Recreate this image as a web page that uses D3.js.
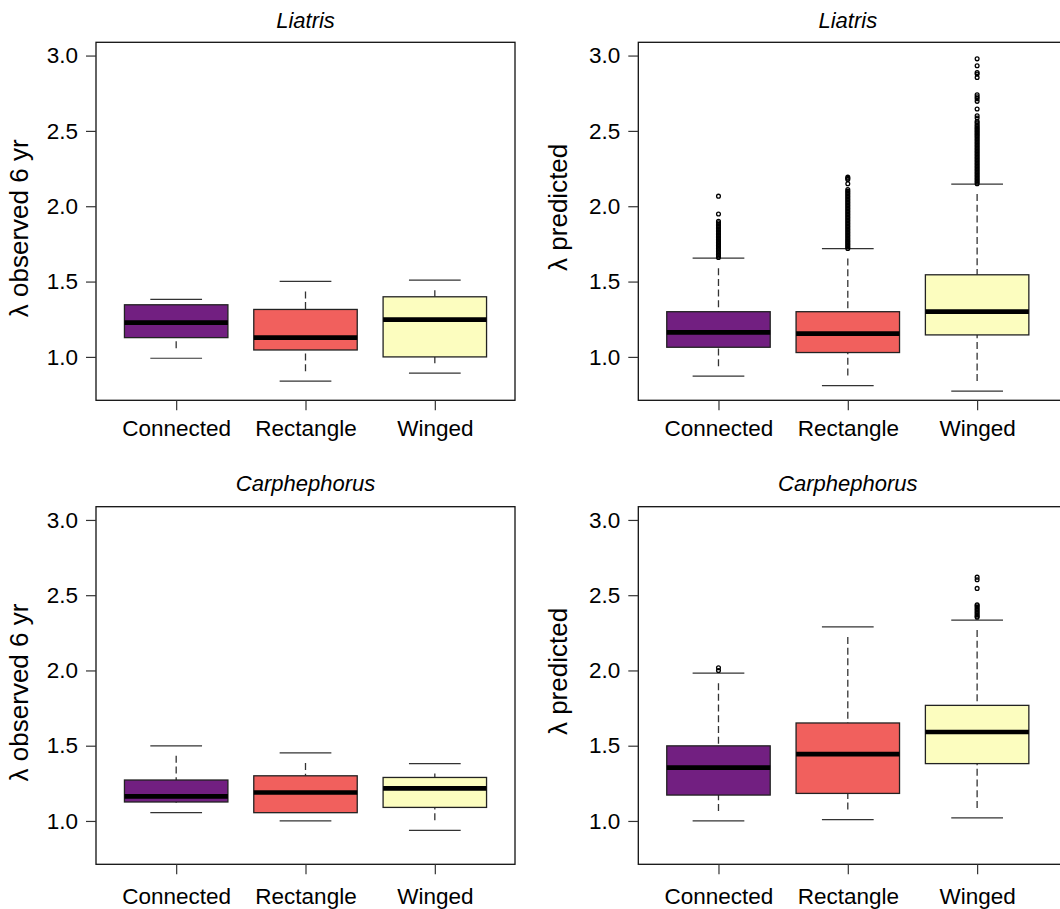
<!DOCTYPE html>
<html>
<head>
<meta charset="utf-8">
<script src="https://cdn.jsdelivr.net/npm/d3@7/dist/d3.min.js"></script>
<style>
  html, body { margin: 0; padding: 0; background: #fff; }
  svg { display: block; }
  text { font-family: "Liberation Sans", Arial, Helvetica, sans-serif; fill: #000; }
</style>
</head>
<body>
<svg id="chart" width="1060" height="909"></svg>
<script>
// ---------------- data ----------------
const categories = ["Connected", "Rectangle", "Winged"];
const boxColors = ["#721F81", "#F1605D", "#FCFDBF"];
const yTicks = [1.0, 1.5, 2.0, 2.5, 3.0];
const panelTitles = ["Liatris", "Liatris", "Carphephorus", "Carphephorus"];
const panelYLabels = ["λ observed 6 yr", "λ predicted", "λ observed 6 yr", "λ predicted"];

// [lower whisker, Q1, median, Q3, upper whisker] per category
const liatrisObserved = [
  [0.991, 1.128, 1.227, 1.346, 1.382],
  [0.839, 1.046, 1.128, 1.315, 1.501],
  [0.892, 1.000, 1.247, 1.399, 1.509]
];
const liatrisPredicted = [
  [0.872, 1.064, 1.163, 1.300, 1.655],
  [0.810, 1.029, 1.154, 1.300, 1.719],
  [0.773, 1.146, 1.300, 1.545, 2.147]
];
const carphObserved = [
  [1.055, 1.126, 1.163, 1.272, 1.499],
  [1.000, 1.055, 1.189, 1.300, 1.452],
  [0.938, 1.090, 1.216, 1.289, 1.381]
];
const carphPredicted = [
  [1.000, 1.172, 1.355, 1.499, 1.982],
  [1.009, 1.183, 1.444, 1.651, 2.289],
  [1.020, 1.381, 1.591, 1.768, 2.335]
];

// outliers
const liatrisPredConnectedOut = [1.66, 1.67, 1.68, 1.69, 1.70, 1.71, 1.72, 1.73, 1.74, 1.75,
  1.76, 1.77, 1.78, 1.79, 1.80, 1.81, 1.82, 1.83, 1.84, 1.85, 1.86, 1.87, 1.88, 1.89, 1.90,
  1.948, 2.067];
const liatrisPredRectangleOut = [1.72, 1.73, 1.74, 1.75, 1.76, 1.77, 1.78, 1.79, 1.80, 1.81,
  1.82, 1.83, 1.84, 1.85, 1.86, 1.87, 1.88, 1.89, 1.90, 1.91, 1.92, 1.93, 1.94, 1.95, 1.96,
  1.97, 1.98, 1.99, 2.00, 2.01, 2.02, 2.03, 2.04, 2.05, 2.06, 2.07, 2.08, 2.09, 2.10,
  2.111, 2.149, 2.178, 2.186, 2.193];
const liatrisPredWingedOut = [2.15, 2.16, 2.17, 2.18, 2.19, 2.20, 2.21, 2.22, 2.23, 2.24,
  2.25, 2.26, 2.27, 2.28, 2.29, 2.30, 2.31, 2.32, 2.33, 2.34, 2.35, 2.36, 2.37, 2.38, 2.39,
  2.40, 2.41, 2.42, 2.43, 2.44, 2.45, 2.46, 2.47, 2.48, 2.49, 2.50, 2.51, 2.52, 2.53, 2.54,
  2.553, 2.563, 2.586, 2.601, 2.645, 2.696, 2.714, 2.727, 2.740, 2.854, 2.877, 2.888, 2.932, 2.978];
const carphPredConnectedOut = [2.000, 2.018];
const carphPredRectangleOut = [];
const carphPredWingedOut = [2.353, 2.36, 2.37, 2.38, 2.39, 2.40, 2.41, 2.42, 2.43, 2.437,
  2.545, 2.603, 2.620];

const panelStats = [liatrisObserved, liatrisPredicted, carphObserved, carphPredicted];
const panelOutliers = [
  [[], [], []],
  [liatrisPredConnectedOut, liatrisPredRectangleOut, liatrisPredWingedOut],
  [[], [], []],
  [carphPredConnectedOut, carphPredRectangleOut, carphPredWingedOut]
];

// ---------------- layout ----------------
const colLeft = [96, 638.3];
const rowTop = [42.3, 506.7];
const rowHeight = [358, 357.6];
const plotW = 419;
const frameW = [419, 440];         // right column frame runs off the canvas
const titleGap = [14, 16];
const xLabelPad = [10, 13.6];
const yLabelDx = [-68, -71];
const yLabelDy = [7, -14];
const yDomain = [0.712, 3.088];
const xDomain = [0.38, 3.62];
const boxHalf = 0.4, capHalf = 0.2;

const svg = d3.select("#chart");

panelStats.forEach((stats, p) => {
  const row = Math.floor(p / 2), col = p % 2;
  const left = colLeft[col], top = rowTop[row], h = rowHeight[row];
  const bottom = top + h;

  const x = d3.scaleLinear().domain(xDomain).range([left, left + plotW]);
  const y = d3.scaleLinear().domain(yDomain).range([bottom, top]);

  const g = svg.append("g");

  stats.forEach((s, i) => {
    const cx = i + 1;
    const [lo, q1, med, q3, hi] = s;
    const bg = g.append("g");

    // dashed whiskers: from the cap toward the box, leaving a gap at the cap
    const whisk = (capV, boxV) => {
      const yc = y(capV), yb = y(boxV);
      const dir = yb > yc ? 1 : -1;
      const len = Math.abs(yb - yc);
      if (len <= 6.3) return;
      bg.append("line")
        .attr("x1", x(cx)).attr("x2", x(cx))
        .attr("y1", yc + dir * 6.3).attr("y2", yb)
        .attr("stroke", "#333").attr("stroke-width", 1.3)
        .attr("stroke-dasharray", "7 3.7").attr("stroke-dashoffset", 7);
    };
    whisk(hi, q3);
    whisk(lo, q1);

    // caps
    [lo, hi].forEach(v => {
      bg.append("line")
        .attr("x1", x(cx - capHalf)).attr("x2", x(cx + capHalf))
        .attr("y1", y(v)).attr("y2", y(v))
        .attr("stroke", "#333").attr("stroke-width", 1.2);
    });

    // box
    bg.append("rect")
      .attr("x", x(cx - boxHalf)).attr("width", x(cx + boxHalf) - x(cx - boxHalf))
      .attr("y", y(q3)).attr("height", y(q1) - y(q3))
      .attr("fill", boxColors[i]).attr("stroke", "#222").attr("stroke-width", 1.3);

    // median
    bg.append("line")
      .attr("x1", x(cx - boxHalf)).attr("x2", x(cx + boxHalf))
      .attr("y1", y(med)).attr("y2", y(med))
      .attr("stroke", "#000").attr("stroke-width", 4.7);

    // outliers
    bg.selectAll("circle.out").data(panelOutliers[p][i]).enter()
      .append("circle").attr("class", "out")
      .attr("cx", x(cx)).attr("cy", d => y(d)).attr("r", 1.9)
      .attr("fill", "none").attr("stroke", "#000").attr("stroke-width", 1.3);
  });

  // frame
  g.append("rect")
    .attr("x", left).attr("y", top).attr("width", frameW[col]).attr("height", h)
    .attr("fill", "none").attr("stroke", "#111").attr("stroke-width", 1.3);

  // y axis
  const ya = g.append("g").attr("transform", `translate(${left},0)`)
    .call(d3.axisLeft(y).tickValues(yTicks).tickSize(10).tickPadding(8)
      .tickFormat(d3.format(".1f")));
  ya.select(".domain").remove();
  ya.selectAll("line").attr("stroke", "#333").attr("stroke-width", 1.2);
  ya.selectAll("text").style("font-size", "22.5px").attr("fill", "#000");

  // x axis
  const xa = g.append("g").attr("transform", `translate(0,${bottom})`)
    .call(d3.axisBottom(x).tickValues([1, 2, 3]).tickSize(10).tickPadding(xLabelPad[row])
      .tickFormat(d => categories[d - 1]));
  xa.select(".domain").remove();
  xa.selectAll("line").attr("stroke", "#333").attr("stroke-width", 1.2);
  xa.selectAll("text").style("font-size", "22.5px").attr("fill", "#000");

  // title
  g.append("text")
    .attr("x", left + plotW / 2).attr("y", top - titleGap[row])
    .attr("text-anchor", "middle")
    .style("font-size", "22px").style("font-style", "italic")
    .text(panelTitles[p]);

  // y label
  const ly = (top + bottom) / 2 + yLabelDy[col];
  g.append("text")
    .attr("transform", `translate(${left + yLabelDx[col]},${ly}) rotate(-90)`)
    .attr("text-anchor", "middle")
    .style("font-size", "26px")
    .text(panelYLabels[p]);
});
</script>
</body>
</html>
